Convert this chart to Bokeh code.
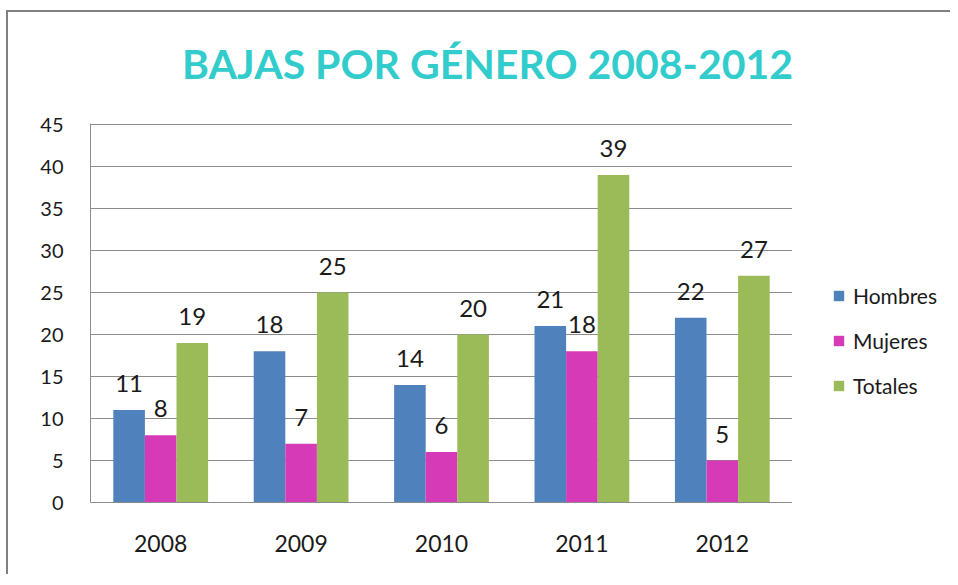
from bokeh.plotting import figure
from bokeh.layouts import column, row
from bokeh.models import (ColumnDataSource, FactorRange, FixedTicker, LabelSet, Legend,
                          LegendItem, Label)
from bokeh.transform import dodge
from bokeh.core.properties import value
from bokeh.embed import file_html
from bokeh.resources import INLINE

# ---- data ----
years = ["2008", "2009", "2010", "2011", "2012"]
hombres = [11, 18, 14, 21, 22]
mujeres = [8, 7, 6, 18, 5]
totales = [19, 25, 20, 39, 27]
series_names = ["Hombres", "Mujeres", "Totales"]
y_ticks = [0, 5, 10, 15, 20, 25, 30, 35, 40, 45]
title_text = "BAJAS POR GÉNERO 2008-2012"

colors = ["#4F81BD", "#D63AB6", "#9BBB59"]
FONT = "Lato"

src = ColumnDataSource(dict(
    years=years,
    Hombres=hombres,
    Mujeres=mujeres,
    Totales=totales,
    Hombres_t=[str(v) for v in hombres],
    Mujeres_t=[str(v) for v in mujeres],
    Totales_t=[str(v) for v in totales],
))

TOP_H = 100
MAIN_W, LEG_W = 784, 158
FRAME_TOP, FRAME_H, BOTTOM = 11, 379, 72
MAIN_H = FRAME_TOP + FRAME_H + BOTTOM

# ---- title strip ----
tf = figure(width=MAIN_W + LEG_W, height=TOP_H, x_axis_type=None, y_axis_type=None,
            x_range=(0, 1), y_range=(0, 1), min_border=0,
            output_backend="svg", toolbar_location=None)
tf.outline_line_color = None
tf.add_layout(Label(x=479, y=49, x_units="screen", y_units="screen", text=title_text,
                    text_align="center", text_baseline="alphabetic",
                    text_font=FONT, text_font_size="41px", text_font_style="bold",
                    text_color="#33CCCC"))

# ---- main chart ----
p = figure(
    x_range=FactorRange(*years, range_padding=0),
    y_range=(0, 45.12),
    width=MAIN_W, height=MAIN_H,
    output_backend="svg", toolbar_location=None,
    min_border_left=82, min_border_right=0,
    min_border_top=FRAME_TOP, min_border_bottom=BOTTOM,
)

bw = 0.225
offsets = [-bw, 0.0, bw]
for name, col, off in zip(series_names, colors, offsets):
    p.vbar(x=dodge("years", off, range=p.x_range), top=name, width=bw,
           source=src, fill_color=col, line_color=None)
    p.add_layout(LabelSet(x=dodge("years", off, range=p.x_range), y=name, text=name + "_t",
                          source=src, text_align="center", text_baseline="alphabetic",
                          y_offset=18, text_font=value(FONT), text_font_size="24px",
                          text_color="#1A1A1A"))

p.outline_line_color = None
p.xgrid.grid_line_color = None
p.ygrid.grid_line_color = "#8C8C8C"
p.ygrid.grid_line_width = 1
p.yaxis.ticker = FixedTicker(ticks=y_ticks)
for ax in (p.xaxis, p.yaxis):
    ax.axis_line_color = "#8C8C8C"
    ax.major_tick_line_color = None
    ax.minor_tick_line_color = None
    ax.major_tick_out = 0
    ax.major_tick_in = 0
    ax.minor_tick_out = 0
    ax.major_label_text_font = FONT
    ax.major_label_text_color = "#1A1A1A"
p.yaxis.major_label_text_font_size = "20px"
p.yaxis.major_label_standoff = 27
p.xaxis.major_label_text_font_size = "23px"
p.xaxis.major_label_standoff = 32

# ---- legend strip (key glyphs come from hidden copies of the series) ----
lp = figure(width=LEG_W, height=MAIN_H, x_axis_type=None, y_axis_type=None,
            x_range=FactorRange(*years), y_range=(0, 45), min_border=0,
            output_backend="svg", toolbar_location=None)
lp.outline_line_color = None
key_renderers = [lp.vbar(x="years", top=n, width=0.5, source=src, fill_color=c,
                         line_color=None, visible=False)
                 for n, c in zip(series_names, colors)]
legend = Legend(
    items=[LegendItem(label=n, renderers=[r]) for n, r in zip(series_names, key_renderers)],
    location=(40, 104),
    glyph_width=13, glyph_height=13, label_standoff=8, spacing=20,
    padding=0, margin=0, border_line_color=None, background_fill_alpha=0,
    inactive_fill_alpha=0,
    label_text_font=FONT, label_text_font_size="21px", label_text_color="#1A1A1A",
)
lp.add_layout(legend, "center")

layout = column(tf, row(p, lp), styles={
    "border-left": "2px solid #808080", "border-top": "2px solid #808080",
    "margin-left": "6px", "margin-top": "10px"})

open("out.html", "w").write(file_html(layout, INLINE))
